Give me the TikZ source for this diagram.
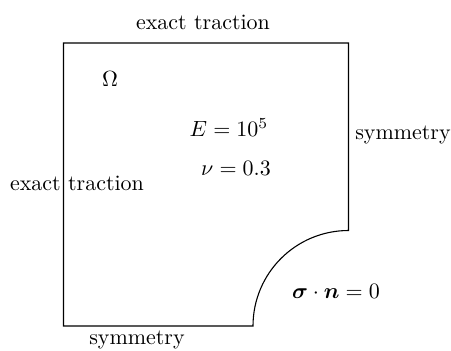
\documentclass[tikz,border=0pt]{standalone}
\usepackage{amsmath,bm}
\begin{document}
\begin{tikzpicture}[x=0.455pt,y=-0.455pt,
  lbl/.style={inner sep=0pt,anchor=center}]
\useasboundingbox (0,0) rectangle (451,350);
\coordinate (tl) at (63.5,43);
\coordinate (tr) at (348.5,43);
\coordinate (rh) at (348.5,230.5);
\coordinate (bl) at (63.5,326);
\draw[line width=0.5pt,line join=miter] (bl) -- (tl) -- (tr) -- (rh) arc[start angle=90,end angle=180,radius=95.5*0.455pt] -- cycle;
\node[lbl] (top) at (203,22) {exact traction};
\node[lbl] (omega) at (110,79) {$\Omega$};
\node[lbl] (E) at (229,128) {$E=10^5$};
\node[lbl] (nu) at (236,168) {$\nu=0.3$};
\node[lbl] (symr) at (403,135) {symmetry};
\node[lbl] (left) at (77,183) {exact traction};
\node[lbl] (sig) at (336,291) {$\bm{\sigma}\cdot\bm{n}=0$};
\node[lbl] (symb) at (137,340) {symmetry};
\end{tikzpicture}
\end{document}
